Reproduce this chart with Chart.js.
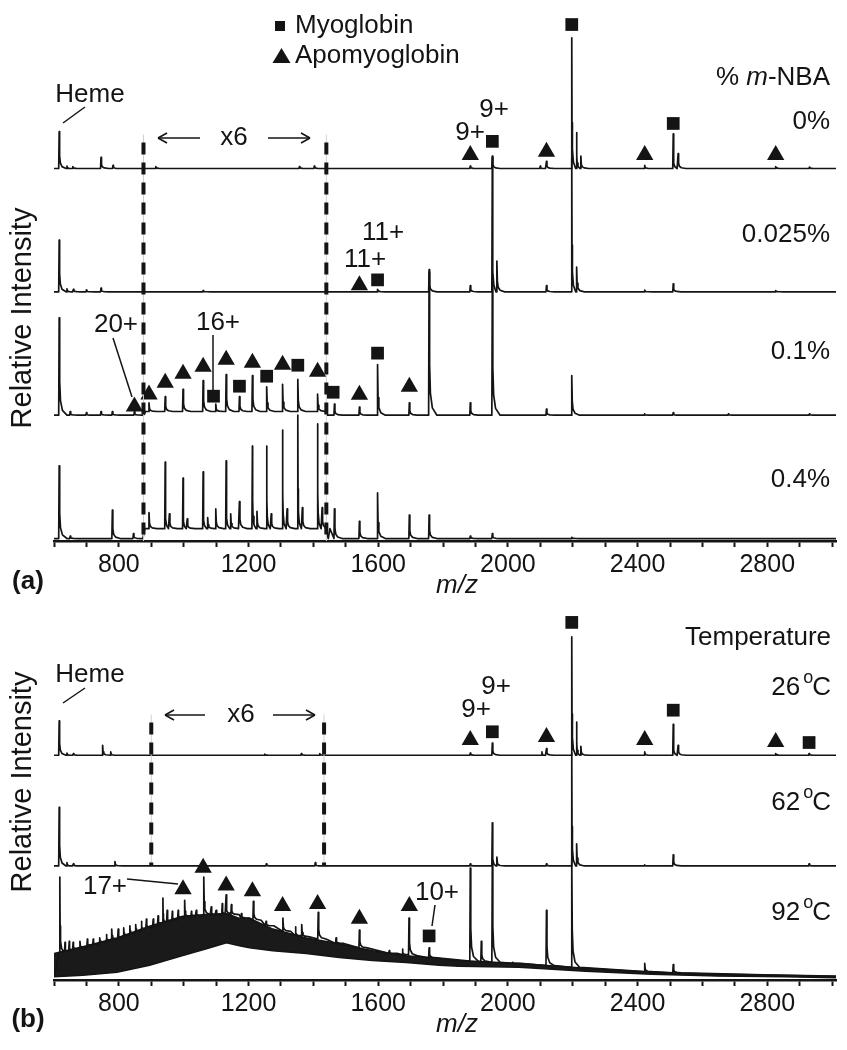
<!DOCTYPE html>
<html>
<head>
<meta charset="utf-8">
<script src="https://cdn.jsdelivr.net/npm/chart.js@4.4.1/dist/chart.umd.min.js"></script>
<style>
  html, body { margin: 0; padding: 0; background: #fff; }
  #wrap { position: relative; width: 847px; height: 1050px; }
  canvas { position: absolute; left: 0; }
  #chartA { top: 0; }
  #chartB { top: 600px; }
</style>
</head>
<body>
<div id="wrap">
  <canvas id="chartA" width="847" height="600"></canvas>
  <canvas id="chartB" width="847" height="450"></canvas>
</div>
<script>
// ---- data (m/z, height above the trace baseline [, local baseline]) ----
// heights are in units of the spacing between stacked traces

// panel (a): % m-NBA
const nba0 = [[616,0.30],[640,0.02],[658,0.015],[745,0.09],[782,0.025],[914,0.015],[1357,0.015],[1403,0.02],
  [1884,0.02],[1952,0.10],[2100,0.02],[2119,0.057],[2197,1.06],[2212,0.29],[2225,0.10],[2422,0.025],
  [2510,0.28],[2525,0.12],[2826,0.015],[2930,0.01]];
const nba0025 = [[616,0.42],[640,0.025],[660,0.02],[700,0.015],[745,0.03],[1060,0.01],[1598,0.02],[1757,0.16],
  [1884,0.05],[1952,1.09],[1966,0.25],[2119,0.05],[2197,1.08],[2212,0.2],[2422,0.015],[2510,0.065],[2826,0.01]];
const nba01 = [[616,0.79],[650,0.03],[700,0.02],[745,0.03],[780,0.03],[848,0.03],
  [893,0.10,0.03],[943,0.15,0.03],[998,0.21,0.03],[1060,0.28,0.03],[1099,0.09,0.03],[1131,0.33,0.03],
  [1172,0.15,0.03],[1212,0.32,0.03],[1256,0.23,0.03],[1305,0.25,0.03],[1352,0.29,0.03],[1413,0.17,0.03],
  [1465,0.09],[1542,0.065],[1598,0.41],[1696,0.10],[1757,1.18],[1884,0.10],[1952,1.1],[2119,0.05],
  [2197,0.32],[2422,0.01],[2510,0.02],[2680,0.01],[2930,0.01]];
const nba01Floor = [[876,0],[882,0.03],[1438,0.03],[1444,0]];
const nba04 = [[616,0.59],[650,0.02],[780,0.23],[845,0.04],
  [893,0.21,0.08],[943,0.62,0.08],[956,0.2,0.08],[998,0.49,0.08],[1011,0.16,0.08],[1060,0.54,0.08],
  [1074,0.17,0.08],[1099,0.24,0.08],[1131,0.63,0.08],[1145,0.2,0.08],[1172,0.30,0.08],[1212,0.75,0.08],
  [1226,0.22,0.08],[1256,0.75,0.08],[1270,0.2,0.08],[1305,0.88,0.08],[1319,0.24,0.08],[1352,1.0,0.08],
  [1366,0.25,0.08],[1413,0.93,0.08],[1427,0.25,0.08],
  [1465,0.24],[1542,0.14],[1598,0.37],[1696,0.19],[1757,0.19],[1884,0.02],[1952,0.04],[2197,0.01]];
const nba04Floor = [[874,0],[880,0.08],[1438,0.08],[1446,0]];

// panel (a) symbols: [m/z, level above trace baseline]
const sqNba0 = [[1952,0.22],[2197,1.167],[2510,0.365]];
const triNba0 = [[1884,0.11],[2119,0.135],[2422,0.11],[2826,0.11]];
const sqNba0025 = [[1598,0.097]];
const triNba0025 = [[1542,0.054]];
const sqNba01 = [[1092,0.154],[1172,0.235],[1256,0.316],[1352,0.405],[1461,0.186],[1598,0.503]];
const triNba01 = [[848,0.07],[893,0.167],[943,0.263],[998,0.336],[1060,0.392],[1131,0.449],[1212,0.425],
  [1305,0.409],[1413,0.352],[1542,0.165],[1696,0.23]];

// panel (b): temperature
const t26 = [[616,0.31],[640,0.02],[660,0.015],[750,0.09],[775,0.03],[1250,0.01],[1363,0.015],[1420,0.015],
  [1884,0.02],[1952,0.11],[2105,0.03],[2119,0.06],[2197,1.07],[2212,0.30],[2225,0.08],[2422,0.03],
  [2510,0.28],[2525,0.09],[2826,0.015],[2929,0.015]];
const t62 = [[616,0.53],[640,0.03],[660,0.02],[788,0.04],[1255,0.02],[1406,0.03],[1884,0.02],[1952,0.39],
  [1966,0.08],[2119,0.02],[2197,1.02],[2212,0.2],[2422,0.01],[2510,0.10],[2929,0.02]];
// 92 C: unresolved noise band (upper / lower edge) plus peaks [m/z, top, local base]
const bandMz = [600,689,794,895,997,1070,1132,1172,1203,1275,1378,1480,1582,1686,1788,1850,2034,2240,2443,2649,2855,3012];
const bandTop = [0.209,0.271,0.35,0.456,0.545,0.562,0.571,0.527,0.527,0.43,0.35,0.297,0.235,0.19,0.164,0.147,
  0.12,0.076,0.04,0.023,0.014,0.005];
const bandBottom = [0,0.014,0.04,0.103,0.19,0.253,0.306,0.28,0.262,0.235,0.209,0.173,0.147,0.129,0.103,0.094,
  0.085,0.05,0.023,0.005,0,-0.01];
const t92 = [[618,0.9,0.22],[634,0.31,0.23],[647,0.32,0.24],[659,0.31,0.25],[680,0.32,0.26],[703,0.34,0.28],
  [721,0.34,0.29],[741,0.35,0.31],[762,0.38,0.33],[778,0.43,0.34],[798,0.43,0.35],[815,0.44,0.37],
  [834,0.46,0.39],[852,0.47,0.41],[870,0.5,0.43],[885,0.52,0.44],[906,0.52,0.46],[921,0.55,0.48],
  [936,0.71,0.49],[949,0.6,0.5],[965,0.59,0.51],[983,0.6,0.53],[1003,0.69,0.54],[1024,0.59,0.55],
  [1039,0.6,0.55],[1062,0.9,0.56],[1085,0.63,0.56],[1100,0.6,0.56],[1119,0.66,0.57],[1131,0.74,0.57],
  [1147,0.65,0.56],[1178,0.57,0.53],[1215,0.68,0.51],[1254,0.5,0.46],[1306,0.53,0.41],[1345,0.45,0.37],
  [1364,0.47,0.36],[1415,0.58,0.34],[1470,0.35,0.3],[1542,0.42,0.26],[1634,0.235,0.21],[1675,0.25,0.2],
  [1695,0.53,0.19],[1757,0.26,0.17],[1884,0.98,0.14],[1918,0.32,0.135],[1952,1.05,0.13],[2015,0.13,0.12],
  [2119,0.6,0.1],[2197,1.05,0.085],[2422,0.12,0.045],[2510,0.11,0.035]];

const sqT26 = [[1952,0.212],[2197,1.2],[2510,0.407],[2929,0.115]];
const triT26 = [[1884,0.138],[2119,0.164],[2422,0.138],[2826,0.12]];
const sqT92 = [[1757,0.368]];
const triT92 = [[998,0.789],[1060,0.983],[1131,0.824],[1212,0.771],[1305,0.638],[1413,0.656],[1542,0.523],[1696,0.638]];

const xTickLabels = [800, 1200, 1600, 2000, 2400, 2800];
const X_MIN = 600, X_MAX = 3012;
const x6RegionA = [876, 1440];
const x6RegionB = [900, 1433];

// ---- helpers ----
const INK = '#141414';
const FONT = 'Liberation Sans, Arial, sans-serif';

// peak glyph: sharp rise, short tail to the right (cut short if the next peak is close)
function traceLine(peaks, floor, offset) {
  const pts = [{ x: X_MIN, y: offset }, { x: X_MAX, y: offset }];
  (floor || []).forEach(f => pts.push({ x: f[0], y: offset + f[1] }));
  peaks.forEach((p, i) => {
    const m = p[0], top = p[1], base = p[2] || 0, h = top - base;
    const next = i + 1 < peaks.length ? peaks[i + 1][0] : X_MAX;
    const tail = Math.max(4, Math.min(24, next - m - 3));
    const k = tail / 24;
    pts.push({ x: m - 1.5, y: offset + base });
    pts.push({ x: m, y: offset + top });
    pts.push({ x: m + 1.5 * k, y: offset + base + h * 0.35 });
    pts.push({ x: m + 4 * k, y: offset + base + h * 0.15 });
    pts.push({ x: m + 10 * k, y: offset + base + h * 0.05 });
    pts.push({ x: m + tail, y: offset + base });
  });
  pts.sort((a, b) => a.x - b.x);
  return pts;
}

function markerPts(list, offset) {
  return list.map(p => ({ x: p[0], y: offset + p[1] }));
}

function traceSet(data) {
  return { data, borderColor: INK, borderWidth: 1.7, pointRadius: 0, tension: 0,
    borderJoinStyle: 'round', fill: false };
}

function markSet(data, style) {
  return { data, showLine: false, pointStyle: style, pointRadius: style === 'rect' ? 9 : 10,
    backgroundColor: INK, borderWidth: 0, clip: false };
}

function txt(ctx, s, x, y, align, font) {
  ctx.font = font || ('26px ' + FONT);
  ctx.textAlign = align || 'center';
  ctx.textBaseline = 'middle';
  ctx.fillText(s, x, y);
}

function line(ctx, x1, y1, x2, y2, w) {
  ctx.lineWidth = w || 1.5;
  ctx.beginPath();
  ctx.moveTo(x1, y1);
  ctx.lineTo(x2, y2);
  ctx.stroke();
}

function arrow(ctx, from, to, y) {
  line(ctx, from, y, to, y, 1.6);
  const d = to > from ? -1 : 1;
  line(ctx, to, y, to + d * 9, y - 5, 1.6);
  line(ctx, to, y, to + d * 9, y + 5, 1.6);
}

function degLabel(ctx, num, xr, y) {
  ctx.font = '26px ' + FONT;
  ctx.textAlign = 'right';
  ctx.textBaseline = 'middle';
  ctx.fillText('C', xr, y);
  const wc = ctx.measureText('C').width;
  ctx.font = '18px ' + FONT;
  ctx.fillText('o', xr - wc + 1, y - 10);
  const wo = ctx.measureText('o').width;
  ctx.font = '26px ' + FONT;
  ctx.fillText(num, xr - wc - wo - 2, y);
}

function yLabel(ctx, cx, cy) {
  ctx.save();
  ctx.translate(cx, cy);
  ctx.rotate(-Math.PI / 2);
  txt(ctx, 'Relative Intensity', 0, 0, 'center', '29px ' + FONT);
  ctx.restore();
}

function dashedRegion(chart, region, topVal, botVal) {
  const ctx = chart.ctx, xs = chart.scales.x, ys = chart.scales.y;
  const y1 = ys.getPixelForValue(topVal), y2 = ys.getPixelForValue(botVal);
  region.forEach(m => {
    const x = xs.getPixelForValue(m);
    ctx.strokeStyle = '#cfcfcf';
    ctx.setLineDash([]);
    line(ctx, x, y1 - 8, x, y2, 1);
    ctx.strokeStyle = INK;
    ctx.setLineDash([12, 8]);
    line(ctx, x, y1, x, y2, 4);
  });
  ctx.setLineDash([]);
}

function tickLabel(v) {
  const r = Math.round(Number(v));
  return xTickLabels.indexOf(r) >= 0 ? String(r) : '';
}

function xScale(axisHeight) {
  return {
    type: 'linear', min: X_MIN, max: X_MAX,
    afterFit: s => { s.height = axisHeight; },
    border: { display: true, color: INK, width: 2.5 },
    grid: { display: true, drawOnChartArea: false, drawTicks: true, tickLength: 6, tickWidth: 2, tickColor: INK },
    ticks: {
      stepSize: 100, includeBounds: false, autoSkip: false, maxRotation: 0, minRotation: 0,
      color: INK, padding: 3, font: { family: FONT, size: 25 },
      callback: tickLabel
    }
  };
}

function baseOptions(yMin, yMax, padTop, axisHeight) {
  return {
    responsive: false, animation: false, devicePixelRatio: 1, events: [],
    layout: { padding: { left: 54, right: 11, top: padTop, bottom: 0 } },
    plugins: { legend: { display: false }, tooltip: { enabled: false } },
    scales: { x: xScale(axisHeight), y: { type: 'linear', display: false, min: yMin, max: yMax } }
  };
}

// ---- panel (a) ----
const decorA = {
  id: 'decorA',
  afterDraw(chart) {
    const ctx = chart.ctx;
    ctx.save();
    ctx.fillStyle = INK;
    ctx.strokeStyle = INK;
    dashedRegion(chart, x6RegionA, 3.21, -0.02);
    ctx.strokeStyle = INK;
    // legend
    ctx.fillRect(275, 21, 10, 10);
    txt(ctx, 'Myoglobin', 295, 26, 'left');
    ctx.beginPath();
    ctx.moveTo(281.5, 48); ctx.lineTo(290.5, 63); ctx.lineTo(272.5, 63); ctx.closePath(); ctx.fill();
    txt(ctx, 'Apomyoglobin', 295, 56, 'left');
    // annotations
    txt(ctx, 'Heme', 90, 95);
    line(ctx, 63, 123, 85, 107);
    txt(ctx, 'x6', 234, 138);
    arrow(ctx, 200, 158, 138);
    arrow(ctx, 268, 310, 138);
    txt(ctx, '9+', 494, 110);
    txt(ctx, '9+', 470, 133);
    txt(ctx, '11+', 383, 233);
    txt(ctx, '11+', 365, 260);
    txt(ctx, '20+', 116, 325);
    line(ctx, 113, 338, 132, 397);
    txt(ctx, '16+', 218, 323);
    line(ctx, 213, 335, 213, 392);
    // % m-NBA header
    ctx.font = '26px ' + FONT;
    const w1 = ctx.measureText('% ').width, w3 = ctx.measureText('-NBA').width;
    ctx.font = 'italic 26px ' + FONT;
    const w2 = ctx.measureText('m').width;
    let x0 = 830 - (w1 + w2 + w3);
    txt(ctx, '% ', x0, 78, 'left');
    txt(ctx, 'm', x0 + w1, 78, 'left', 'italic 26px ' + FONT);
    txt(ctx, '-NBA', x0 + w1 + w2, 78, 'left');
    txt(ctx, '0%', 830, 122, 'right');
    txt(ctx, '0.025%', 830, 235, 'right');
    txt(ctx, '0.1%', 830, 352, 'right');
    txt(ctx, '0.4%', 830, 480, 'right');
    txt(ctx, '(a)', 28, 582, 'center', 'bold 26px ' + FONT);
    txt(ctx, 'm/z', 457, 586, 'center', 'italic 26px ' + FONT);
    yLabel(ctx, 23, 318);
    ctx.restore();
  }
};

new Chart(document.getElementById('chartA'), {
  type: 'line',
  data: {
    datasets: [
      traceSet(traceLine(nba0, null, 3)),
      traceSet(traceLine(nba0025, null, 2)),
      traceSet(traceLine(nba01, nba01Floor, 1)),
      traceSet(traceLine(nba04, nba04Floor, 0)),
      markSet(markerPts(sqNba0, 3).concat(markerPts(sqNba0025, 2), markerPts(sqNba01, 1)), 'rect'),
      markSet(markerPts(triNba0, 3).concat(markerPts(triNba0025, 2), markerPts(triNba01, 1)), 'triangle')
    ]
  },
  options: baseOptions(-0.02, 4.22, 18, 59),
  plugins: [decorA]
});

// ---- panel (b) ----
const decorB = {
  id: 'decorB',
  afterDraw(chart) {
    const ctx = chart.ctx;
    ctx.save();
    ctx.fillStyle = INK;
    ctx.strokeStyle = INK;
    dashedRegion(chart, x6RegionB, 2.295, 1);
    ctx.strokeStyle = INK;
    txt(ctx, 'Heme', 90, 75);
    line(ctx, 63, 103, 85, 88);
    txt(ctx, 'x6', 241, 115);
    arrow(ctx, 205, 165, 115);
    arrow(ctx, 273, 315, 115);
    txt(ctx, '9+', 496, 87);
    txt(ctx, '9+', 476, 110);
    txt(ctx, '17+', 105, 287);
    line(ctx, 127, 279, 178, 284);
    txt(ctx, '10+', 437, 293);
    line(ctx, 435, 305, 432, 326);
    txt(ctx, 'Temperature', 831, 38, 'right');
    degLabel(ctx, '26', 831, 88);
    degLabel(ctx, '62', 831, 203);
    degLabel(ctx, '92', 831, 313);
    txt(ctx, '(b)', 28, 420, 'center', 'bold 26px ' + FONT);
    txt(ctx, 'm/z', 457, 425, 'center', 'italic 26px ' + FONT);
    yLabel(ctx, 23, 182);
    ctx.restore();
  }
};

const bandLow = bandMz.map((m, i) => ({ x: m, y: bandBottom[i] }));
const bandHigh = bandMz.map((m, i) => ({ x: m, y: bandTop[i] }));

new Chart(document.getElementById('chartB'), {
  type: 'line',
  data: {
    datasets: [
      traceSet(traceLine(t26, null, 2)),
      traceSet(traceLine(t62, null, 1)),
      traceSet(traceLine(t92, null, 0)),
      { data: bandLow, borderColor: INK, borderWidth: 1.5, pointRadius: 0, tension: 0, fill: false },
      { data: bandHigh, borderColor: INK, borderWidth: 1.5, pointRadius: 0, tension: 0,
        fill: '-1', backgroundColor: '#1a1a1a' },
      markSet(markerPts(sqT26, 2).concat(markerPts(sqT92, 0)), 'rect'),
      markSet(markerPts(triT26, 2).concat(markerPts(triT92, 0)), 'triangle')
    ]
  },
  options: baseOptions(-0.03, 3.312, 2, 70),
  plugins: [decorB]
});
</script>
</body>
</html>
